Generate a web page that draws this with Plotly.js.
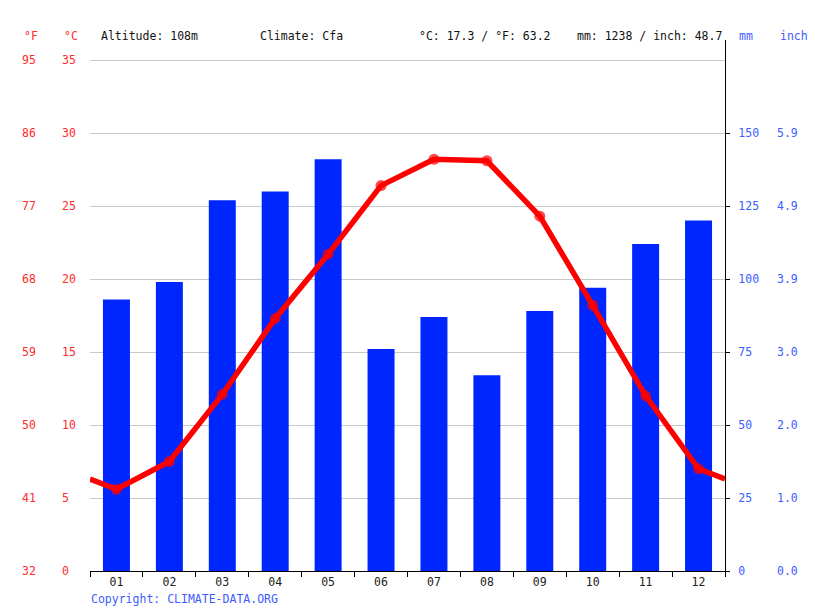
<!DOCTYPE html>
<html>
<head>
<meta charset="utf-8">
<script src="https://cdn.plot.ly/plotly-3.0.1.min.js"></script>
<style>
  html, body {margin: 0; padding: 0; background: #fff;}
  #chart {width: 815px; height: 611px;}
</style>
</head>
<body>
<div id="chart"></div>
<script>

// climate data
var months = ['01','02','03','04','05','06','07','08','09','10','11','12']
var precipMM = [93, 99, 127, 130, 141, 76, 87, 67, 89, 97, 112, 120]
var tempC = [5.6, 7.5, 12.1, 17.3, 21.7, 26.4, 28.2, 28.1, 24.3, 18.2, 12.0, 7.0]
var edgeTempC = 6.3   // where the line meets the plot edges (Dec -> Jan)

var tempTicksC = [0, 5, 10, 15, 20, 25, 30, 35]
var tempTicksF = ['32','41','50','59','68','77','86','95']
var precipTicksMM = [0, 25, 50, 75, 100, 125, 150]
var precipTicksInch = ['0.0','1.0','2.0','3.0','3.9','4.9','5.9']

var headerTexts = ['Altitude: 108m', 'Climate: Cfa', '°C: 17.3 / °F: 63.2', 'mm: 1238 / inch: 48.7']
var headerX = [100, 259, 418, 576]

var W = 815
var FONT = 'DejaVu Sans Mono, monospace'
var RED = '#ff2a2a'
var BLUE_TXT = '#3d5cff'
var BAR_BLUE = '#0026ff'

var tMax = 36.37
var mmMax = tMax * 5

var monthX = []
for (var i=0;i<months.length;i++) {monthX.push(i+1)}

var lineX = [0.5].concat(monthX).concat([12.5])
var lineY = [edgeTempC].concat(tempC).concat([edgeTempC])
var markerSizes = [0]
for (var i=0;i<tempC.length;i++) {markerSizes.push(11)}
markerSizes.push(0)

// bars live on the main axis so the line sits above them
var trace_bars = {
    type: 'bar',
    x: monthX,
    y: precipMM,
    width: 0.51,
    yaxis: 'y',
    marker: {color: BAR_BLUE},
    hoverinfo: 'skip',
}

var trace_temp = {
    type: 'scatter',
    mode: 'lines+markers',
    x: lineX,
    y: lineY,
    yaxis: 'y2',
    line: {color: '#ff0000', width: 5.5},
    marker: {color: '#ff0000', size: markerSizes, line: {width: 0}},
    hoverinfo: 'skip',
}

var annotations = []
function label(txt, xpx, ypx, color) {
    annotations.push({
        text: txt, xref: 'paper', yref: 'paper',
        x: xpx / W, y: (571 - ypx) / 531,
        xanchor: 'left', yanchor: 'middle', showarrow: false,
        font: {family: FONT, size: 11.5, color: color},
    })
}
label('°F', 22, 36, RED)
label('°C', 62, 36, RED)
label('mm', 737, 36, BLUE_TXT)
label('inch', 778, 36, BLUE_TXT)
for (var i=0;i<headerTexts.length;i++) {label(headerTexts[i], headerX[i]-1, 36, '#111')}
label('Copyright: CLIMATE-DATA.ORG', 89, 599, BLUE_TXT)

var layout = {
    width: 815,
    height: 611,
    margin: {l: 0, r: 0, t: 40, b: 40},
    paper_bgcolor: '#fff',
    plot_bgcolor: '#fff',
    showlegend: false,
    font: {family: FONT, size: 11.5},
    xaxis: {
        domain: [90/W, 725/W],
        range: [0.5, 12.5],
        tickvals: monthX,
        ticktext: months,
        ticks: '',
        showgrid: false,
        zeroline: false,
        showline: true,
        linecolor: '#000',
        linewidth: 1,
        tickfont: {family: FONT, size: 11.5, color: '#222'},
        minor: {tick0: 0.5, dtick: 1, ticks: 'outside', ticklen: 5, tickcolor: '#000', showgrid: false},
        fixedrange: true,
    },
    // mm (right side, with axis line); grid every 25 mm = every 5 °C
    yaxis: {
        range: [0, mmMax],
        anchor: 'x',
        side: 'right',
        tickvals: precipTicksMM,
        ticks: 'outside',
        ticklen: 4,
        tickcolor: '#000',
        showline: true,
        linecolor: '#000',
        linewidth: 1,
        showgrid: false,
        zeroline: false,
        ticklabelstandoff: 6,
        tickfont: {family: FONT, size: 11.5, color: BLUE_TXT},
        minor: {tick0: 0, dtick: 25, ticks: '', showgrid: true, gridcolor: '#c8c8c8', gridwidth: 1},
        fixedrange: true,
    },
    // °C
    yaxis2: {
        range: [0, tMax],
        overlaying: 'y',
        anchor: 'free',
        position: 61/W,
        side: 'right',
        tickvals: tempTicksC,
        ticks: '',
        showline: false,
        showgrid: false,
        zeroline: false,
        tickfont: {family: FONT, size: 11.5, color: RED},
        fixedrange: true,
    },
    // °F
    yaxis3: {
        range: [0, tMax],
        overlaying: 'y',
        anchor: 'free',
        position: 21/W,
        side: 'right',
        tickvals: tempTicksC,
        ticktext: tempTicksF,
        ticks: '',
        showline: false,
        showgrid: false,
        zeroline: false,
        tickfont: {family: FONT, size: 11.5, color: RED},
        fixedrange: true,
    },
    // inch
    yaxis4: {
        range: [0, mmMax],
        overlaying: 'y',
        anchor: 'free',
        position: 776/W,
        side: 'right',
        tickvals: precipTicksMM,
        ticktext: precipTicksInch,
        ticks: '',
        showline: false,
        showgrid: false,
        zeroline: false,
        tickfont: {family: FONT, size: 11.5, color: BLUE_TXT},
        fixedrange: true,
    },
    annotations: annotations,
}

// invisible traces so the extra scales are drawn
var trace_f = {x: [1], y: [0], yaxis: 'y3', mode: 'markers', marker: {opacity: 0}, hoverinfo: 'skip'}
var trace_in = {x: [1], y: [0], yaxis: 'y4', mode: 'markers', marker: {opacity: 0}, hoverinfo: 'skip'}

Plotly.newPlot('chart', [trace_bars, trace_temp, trace_f, trace_in], layout, {displayModeBar: false, staticPlot: true})
</script>
</body>
</html>
